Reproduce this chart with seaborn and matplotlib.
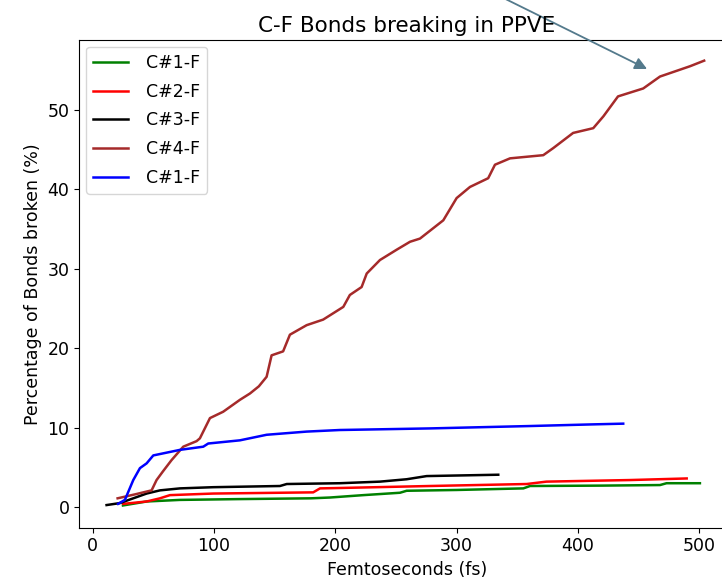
import matplotlib
matplotlib.use("Agg")
import matplotlib.pyplot as plt
import seaborn as sns
import pandas as pd

# ---- data ----
c1_x = [25, 44.5, 72, 120, 180, 195.6, 223, 253.3, 258.8, 300, 355, 360.5, 420, 467.6, 473, 500.5]
c1_y = [0.2, 0.7, 0.9, 1.0, 1.1, 1.2, 1.5, 1.8, 2.05, 2.15, 2.35, 2.65, 2.7, 2.77, 3.0, 3.0]

c2_x = [25.2, 44.5, 55.5, 63.7, 99.4, 181.8, 187.4, 203.8, 278, 357.7, 374, 443, 489.6]
c2_y = [0.4, 0.7, 1.1, 1.5, 1.7, 1.85, 2.35, 2.4, 2.65, 2.9, 3.2, 3.4, 3.6]

c3_x = [11.5, 22.5, 33.5, 44.5, 55.5, 72, 99.4, 154.4, 160, 203.8, 236.8, 258.8, 275.3, 334.3]
c3_y = [0.25, 0.5, 1.1, 1.7, 2.1, 2.35, 2.5, 2.65, 2.9, 3.0, 3.2, 3.5, 3.9, 4.07]

c4_x = [20.6, 35, 48.6, 52.7, 58, 65, 74.7, 85.7, 88.4, 96.7, 107.6, 121.4, 129.7, 137, 143.4,
        147.5, 157, 162.6, 176.4, 190, 206.6, 212, 221.7, 225.9, 236.8, 250.6, 261.6, 269.8,
        289, 300, 311, 326, 331.6, 344, 371.4, 379.7, 396, 412.6, 421, 433, 453.8, 467.6,
        492.4, 504]
c4_y = [1.1, 1.6, 2.1, 3.4, 4.5, 5.9, 7.6, 8.3, 8.65, 11.2, 12.0, 13.5, 14.3, 15.2, 16.4,
        19.1, 19.6, 21.7, 22.9, 23.6, 25.2, 26.7, 27.7, 29.4, 31.1, 32.4, 33.4, 33.8,
        36.1, 38.9, 40.3, 41.4, 43.1, 43.9, 44.3, 45.2, 47.1, 47.7, 49.2, 51.7, 52.7, 54.2,
        55.5, 56.2]

c1b_x = [21, 26.6, 33.5, 39, 44.5, 50, 72, 91.2, 95.3, 121.4, 143.4, 176.4, 203.8, 278, 360.5, 410, 437.3]
c1b_y = [0.4, 0.9, 3.4, 4.9, 5.5, 6.5, 7.2, 7.6, 8.0, 8.4, 9.1, 9.5, 9.7, 9.9, 10.2, 10.4, 10.5]

labels = ["C#1-F", "C#2-F", "C#3-F", "C#4-F", "C#1-F"]
colors = ["green", "red", "black", "brown", "blue"]
xticks = [0, 100, 200, 300, 400, 500]
yticks = [0, 10, 20, 30, 40, 50]

title = "C-F Bonds breaking in PPVE"
xlabel = "Femtoseconds (fs)"
ylabel = "Percentage of Bonds broken (%)"

series = [(c1_x, c1_y), (c2_x, c2_y), (c3_x, c3_y), (c4_x, c4_y), (c1b_x, c1b_y)]

fig = plt.figure(figsize=(7.22, 5.84), dpi=100)
ax = fig.add_axes([0.1098, 0.0964, 0.9075, 0.8351])

for (xs, ys), lab, col in zip(series, labels, colors):
    df = pd.DataFrame({"x": xs, "y": ys})
    sns.lineplot(data=df, x="x", y="y", color=col, label=lab, ax=ax,
                 sort=False, estimator=None, linewidth=1.8)

ax.set_xlim(-11, 529)
ax.set_ylim(-2.6, 58.8)
ax.set_xticks(xticks)
ax.set_yticks(yticks)
ax.tick_params(labelsize=12.5)
ax.set_xlabel(xlabel, fontsize=12.5)
ax.set_ylabel(ylabel, fontsize=12.5)
ax.set_title(title, fontsize=15.5)

ax.legend(loc="upper left", fontsize=12.5, labelspacing=0.62, handletextpad=1.05,
          borderaxespad=0.4)

ax.annotate("", xy=(459, 55.0), xytext=(308, 66.4), xycoords="data",
            textcoords="data", annotation_clip=False,
            arrowprops=dict(arrowstyle="-|>", color="#547a8c", lw=1.3,
                            mutation_scale=18))

fig.savefig("out.png", dpi=100)
